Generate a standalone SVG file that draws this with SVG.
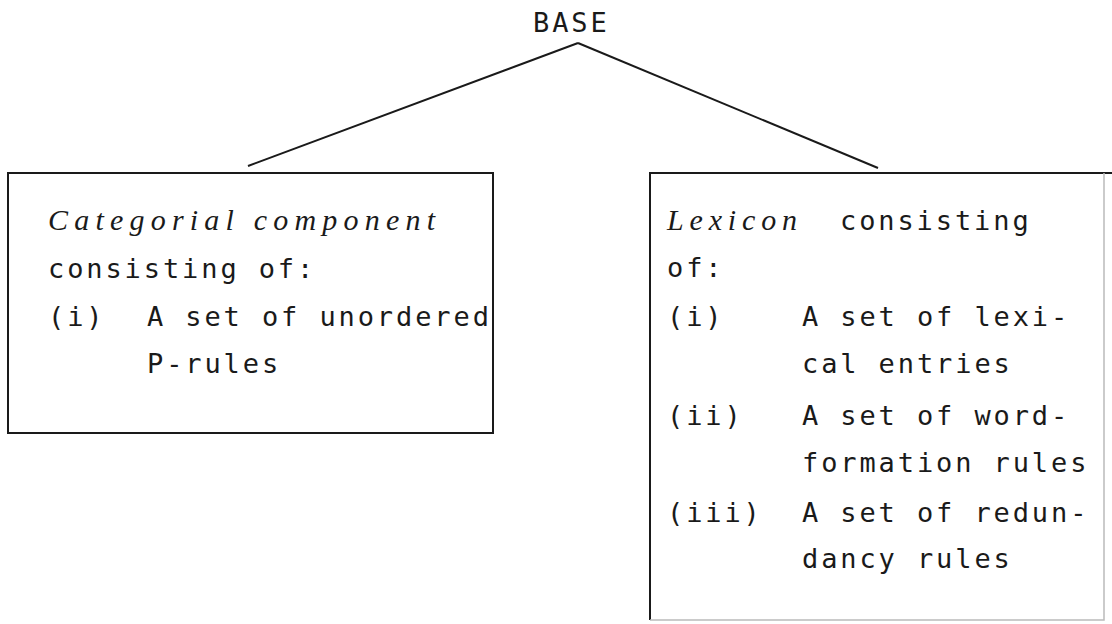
<svg xmlns="http://www.w3.org/2000/svg" width="1112" height="624" viewBox="0 0 1112 624">
<style>
.t{font-family:"DejaVu Sans Mono","Liberation Mono",monospace;font-size:27px;letter-spacing:2.9px;fill:#1a1a1a}
.i{font-family:"Liberation Serif","DejaVu Serif",serif;font-style:italic;font-size:30px;fill:#1a1a1a}
.ln{stroke:#1a1a1a;stroke-width:2;fill:none}
.lt{stroke:#bbbbbb;stroke-width:1.5;fill:none}
</style>
<rect width="1112" height="624" fill="#ffffff"/>
<g id="base"><text class="t" x="533" y="32">BASE</text></g>
<g id="connectors">
<path class="ln" d="M578 43 L248 166"/>
<path class="ln" d="M578 43 L878 168"/>
</g>
<g id="categorial">
<rect class="ln" x="8" y="173" width="485" height="260"/>
<text class="i" x="48" y="230" textLength="387" lengthAdjust="spacing">Categorial component</text>
<text class="t" x="48" y="278">consisting of:</text>
<text class="t" x="48" y="326">(i)</text>
<text class="t" x="147" y="326">A set of unordered</text>
<text class="t" x="147" y="373">P-rules</text>
</g>
<g id="lexicon">
<path class="ln" d="M650 620 L650 173 L1112 173"/>
<path class="lt" d="M1104 173 L1104 620 L650 620"/>
<text class="i" x="667" y="230" textLength="130" lengthAdjust="spacing">Lexicon</text>
<text class="t" x="840" y="230">consisting</text>
<text class="t" x="667" y="277">of:</text>
<text class="t" x="667" y="326">(i)</text>
<text class="t" x="802" y="326">A set of lexi-</text>
<text class="t" x="802" y="373">cal entries</text>
<text class="t" x="667" y="425">(ii)</text>
<text class="t" x="802" y="425">A set of word-</text>
<text class="t" x="802" y="472">formation rules</text>
<text class="t" x="667" y="522">(iii)</text>
<text class="t" x="802" y="522">A set of redun-</text>
<text class="t" x="802" y="568">dancy rules</text>
</g>
</svg>
